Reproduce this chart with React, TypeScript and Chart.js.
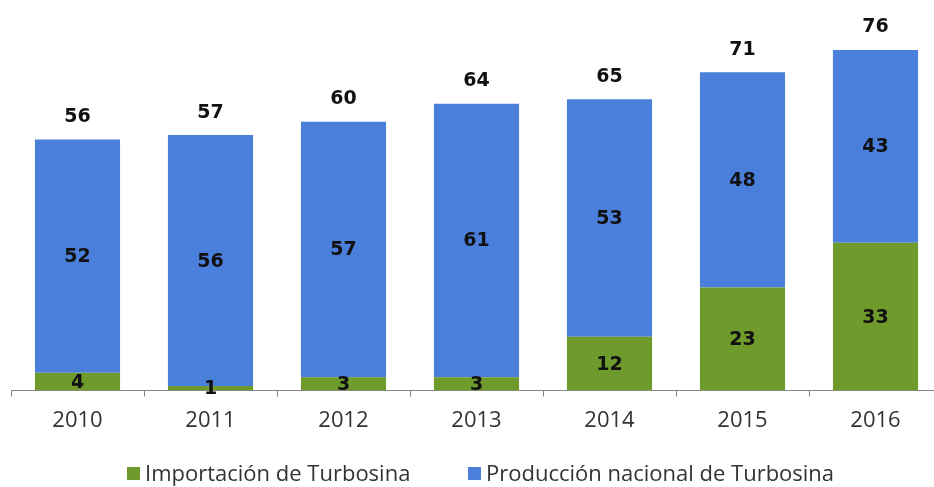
import React, { useEffect, useRef } from "react";
import { Chart, registerables } from "chart.js";

Chart.register(...registerables);

const years = ["2010", "2011", "2012", "2013", "2014", "2015", "2016"];
const importacion = [4, 1, 3, 3, 12, 23, 33];
const produccion = [52, 56, 57, 61, 53, 48, 43];
const totales = [56, 57, 60, 64, 65, 71, 76];
const seriesNames = ["Importación de Turbosina", "Producción nacional de Turbosina"];
const colors = ["#6F9A2C", "#4A80DC"];

const labelPlugin = {
  id: "valueLabels",
  afterDatasetsDraw(chart: any) {
    const ctx = chart.ctx;
    ctx.save();
    ctx.fillStyle = "#111";
    ctx.font = "bold 19px 'DejaVu Sans', Verdana, sans-serif";
    ctx.textAlign = "center";
    chart.data.datasets.forEach((ds: any, di: number) => {
      const meta = chart.getDatasetMeta(di);
      meta.data.forEach((bar: any, i: number) => {
        const top = Math.min(bar.y, bar.base);
        const bottom = Math.max(bar.y, bar.base);
        ctx.textBaseline = "middle";
        ctx.fillText(String(ds.data[i]), bar.x, (top + bottom) / 2 + 1);
      });
    });
    const lastMeta = chart.getDatasetMeta(chart.data.datasets.length - 1);
    lastMeta.data.forEach((bar: any, i: number) => {
      ctx.textBaseline = "bottom";
      ctx.fillText(String(totales[i]), bar.x, bar.y - 13);
    });
    ctx.restore();
  },
};

const legendPlugin = {
  id: "customLegend",
  afterDraw(chart: any) {
    const ctx = chart.ctx;
    ctx.save();
    ctx.font = "22px 'Open Sans', sans-serif";
    ctx.textBaseline = "alphabetic";
    ctx.textAlign = "left";
    const baseline = 481;
    const starts = [127, 468];
    seriesNames.forEach((name, i) => {
      const x = starts[i];
      ctx.fillStyle = colors[i];
      ctx.fillRect(x, 467, 13, 13);
      ctx.fillStyle = "#333";
      ctx.fillText(name, x + 18, baseline);
    });
    ctx.restore();
  },
};

export default function App() {
  const ref = useRef<HTMLCanvasElement>(null);
  useEffect(() => {
    if (!ref.current) return;
    const chart = new Chart(ref.current, {
      type: "bar",
      data: {
        labels: years,
        datasets: [
          { label: seriesNames[0], data: importacion, backgroundColor: colors[0], barPercentage: 0.64, categoryPercentage: 1 },
          { label: seriesNames[1], data: produccion, backgroundColor: colors[1], barPercentage: 0.64, categoryPercentage: 1 },
        ],
      },
      options: {
        animation: false,
        responsive: false,
        maintainAspectRatio: false,
        layout: { padding: { left: 11, right: 8, top: 32, bottom: 42 } },
        plugins: { legend: { display: false }, tooltip: { enabled: false } },
        scales: {
          x: {
            stacked: true,
            grid: { offset: true, drawOnChartArea: false, drawTicks: true, tickLength: 6, color: "#888" },
            border: { display: true, color: "#888" },
            ticks: { color: "#333", font: { size: 22, family: "'Open Sans', sans-serif" }, padding: 11 },
          },
          y: { stacked: true, display: false, min: 0, max: 80 },
        },
      },
      plugins: [labelPlugin, legendPlugin],
    });
    return () => chart.destroy();
  }, []);
  return (
    <div style={{ position: "fixed", left: 0, top: 0, width: 934, height: 487, background: "#fff", overflow: "hidden" }}>
      <canvas ref={ref} width={950} height={487} style={{ width: 950, height: 487, display: "block" }} />
    </div>
  );
}
